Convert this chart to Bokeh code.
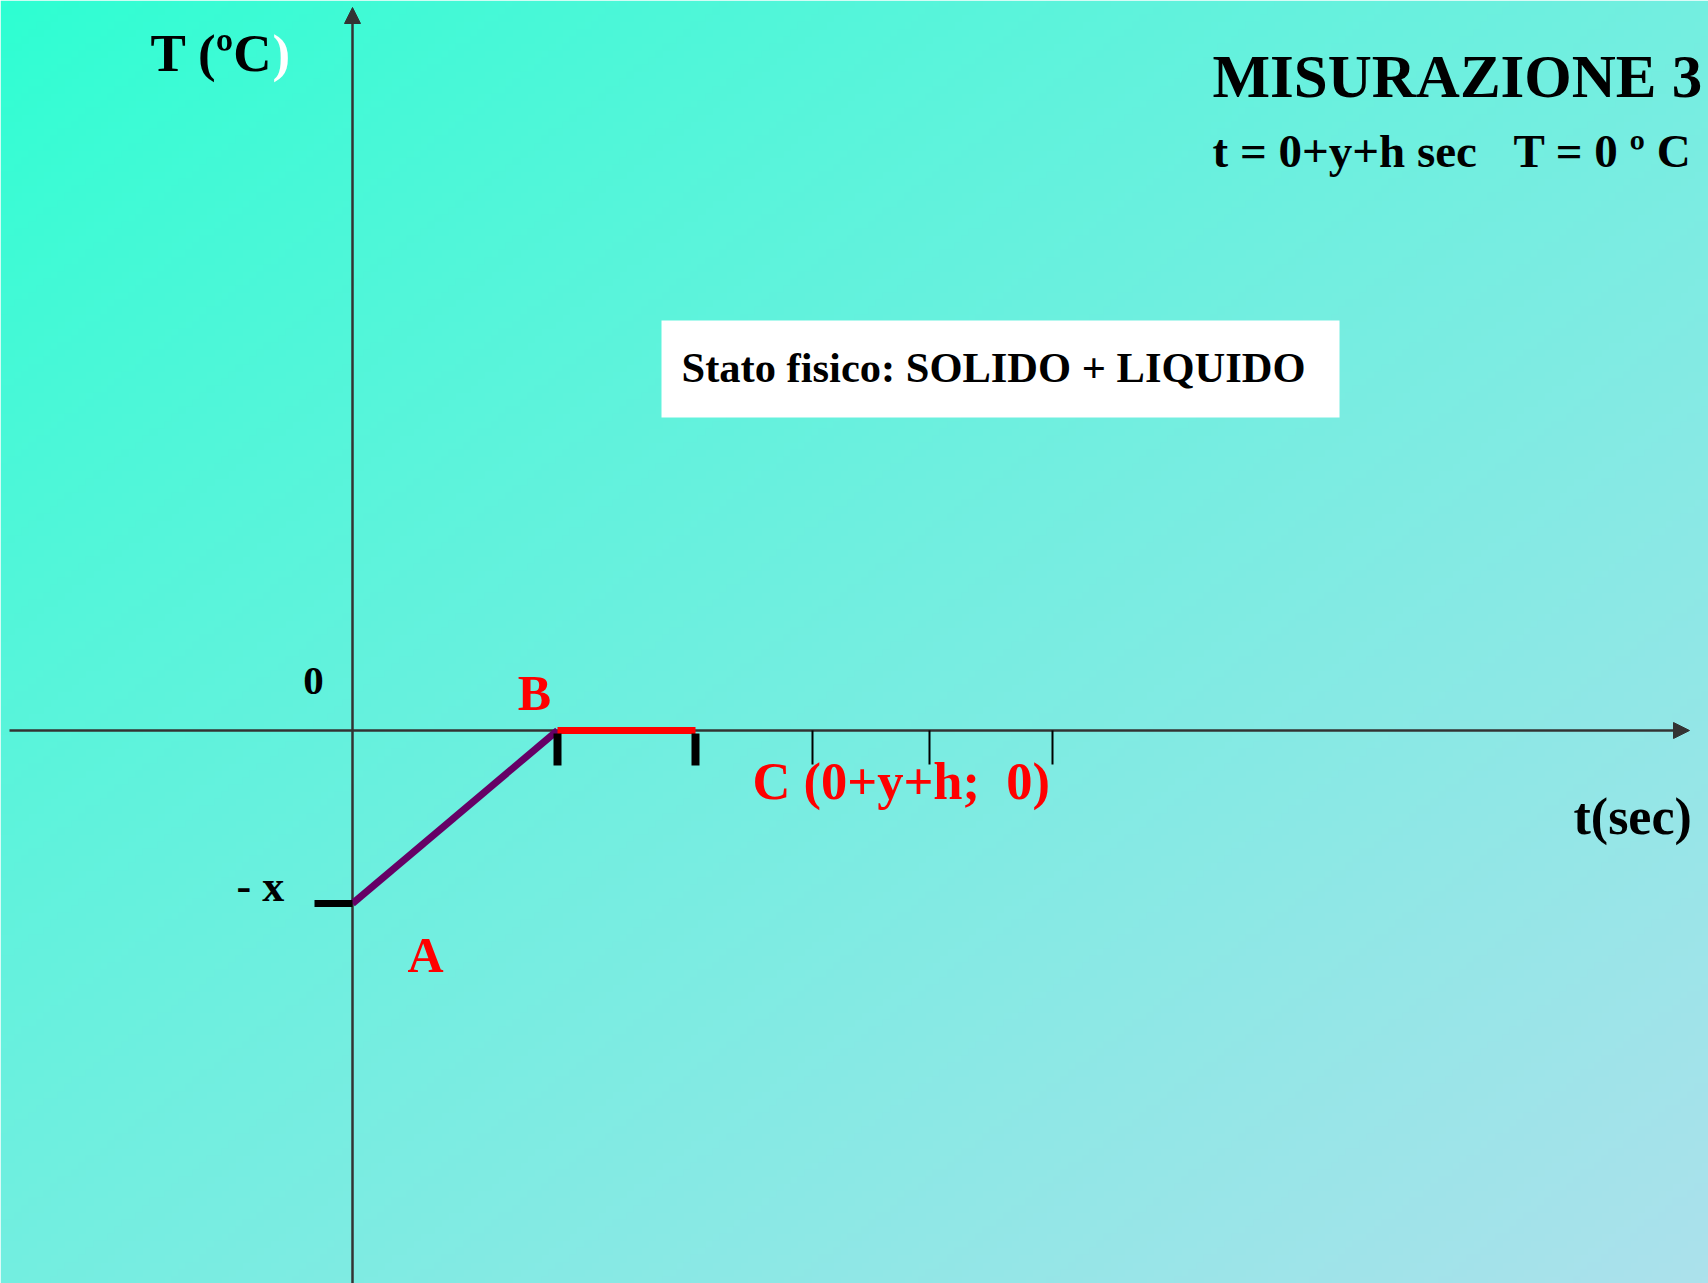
import numpy as np
from bokeh.plotting import figure
from bokeh.models import Range1d, Label, Arrow, NormalHead, BoxAnnotation
from bokeh.embed import file_html
from bokeh.resources import INLINE

# ---- data (t in arbitrary time units, T in arbitrary temperature units) ----
t_heating = [0, 205]          # A -> B
T_heating = [-173, 0]
t_plateau = [205, 343]        # B -> C (solid + liquid)
T_plateau = [0, 0]
t_bold_ticks = [205, 343]
t_thin_ticks = [460, 577, 700]
T_minus_x = -173
point_labels = ["A", "B"]

W, H = 1708, 1283
X0, X1 = -352, 1356
Y0, Y1 = -553, 730

p = figure(width=W, height=H, output_backend="svg", toolbar_location=None,
           x_range=Range1d(X0, X1), y_range=Range1d(Y0, Y1),
           x_axis_type=None, y_axis_type=None, min_border=0,
           min_border_left=0, min_border_right=0, min_border_top=0, min_border_bottom=0)
p.grid.visible = False
p.outline_line_color = None
p.border_fill_color = "#6ff0dc"

# background diagonal gradient (turquoise -> light blue)
nx, ny = 240, 180
u = np.linspace(0, 1, nx)[None, :]
v_top = np.linspace(1, 0, ny)[:, None]   # row 0 is bottom of image
d = np.clip((u + v_top) / 2.0, 0, 1) ** 0.85
tl = np.array([45, 255, 210])
br = np.array([172, 225, 236])
img = np.empty((ny, nx), dtype=np.uint32)
view = img.view(dtype=np.uint8).reshape((ny, nx, 4))
for k in range(3):
    view[:, :, k] = (tl[k] + (br[k] - tl[k]) * d).astype(np.uint8)
view[:, :, 3] = 255
p.image_rgba(image=[img], x=X0, y=Y0, dw=X1 - X0, dh=Y1 - Y0, level="image")

axis_col = "#333333"
# axes with arrows (below the curve)
p.add_layout(Arrow(x_start=0, y_start=Y0, x_end=0, y_end=723, line_color=axis_col, line_width=2.5,
                   level="underlay",
                   end=NormalHead(size=16, fill_color=axis_col, line_color=axis_col)))
p.add_layout(Arrow(x_start=-343, y_start=0, x_end=1337, y_end=0, line_color=axis_col, line_width=2.5,
                   level="underlay",
                   end=NormalHead(size=16, fill_color=axis_col, line_color=axis_col)))

# thin ticks on the t axis
p.segment(x0=t_thin_ticks, y0=[0] * len(t_thin_ticks), x1=t_thin_ticks, y1=[-34] * len(t_thin_ticks),
          line_color="black", line_width=2)

# curve
p.line(t_heating, T_heating, line_color="#660066", line_width=7)
p.line(t_plateau, T_plateau, line_color="#ff0000", line_width=7, line_cap="butt")

# bold ticks
p.segment(x0=t_bold_ticks, y0=[-3] * 2, x1=t_bold_ticks, y1=[-35] * 2,
          line_color="black", line_width=8, line_cap="butt")
p.segment(x0=[-38], y0=[T_minus_x], x1=[0], y1=[T_minus_x], line_color="black", line_width=7, line_cap="butt")

# white box
p.add_layout(BoxAnnotation(left=309, right=987, top=410, bottom=313, fill_color="white", fill_alpha=1.0,
                           line_color=None, level="annotation"))

F = "Liberation Serif"
K = 0.36  # baseline correction (fraction of font size)

def lab(x, y, text, size, color="black", align="left"):
    p.add_layout(Label(x=x, y=y + K * size, text=text, text_font=F, text_font_style="bold",
                       text_font_size=f"{size}px", text_color=color, text_align=align,
                       text_baseline="alphabetic"))

lab(-80, 658, "T (ºC", 53, align="right")
lab(-80, 658, ")", 53, color="white")
lab(-39, 35, "0", 41, align="center")
lab(-116, -172, "- x", 44)
lab(73, -242, point_labels[0], 50, color="#ff0000", align="center")
lab(182, 20, point_labels[1], 50, color="#ff0000", align="center")
lab(400, -69, "C (0+y+h;\u00a0 0)", 52.5, color="#ff0000")
lab(1221, -105, "t(sec)", 52)
lab(860, 632, "MISURAZIONE 3", 61)
lab(860, 563, "t = 0+y+h sec", 47)
lab(1161, 563, "T = 0 º C", 47)
lab(329, 348, "Stato fisico: SOLIDO + LIQUIDO", 42.5)

open("out.html", "w").write(file_html(p, INLINE))
